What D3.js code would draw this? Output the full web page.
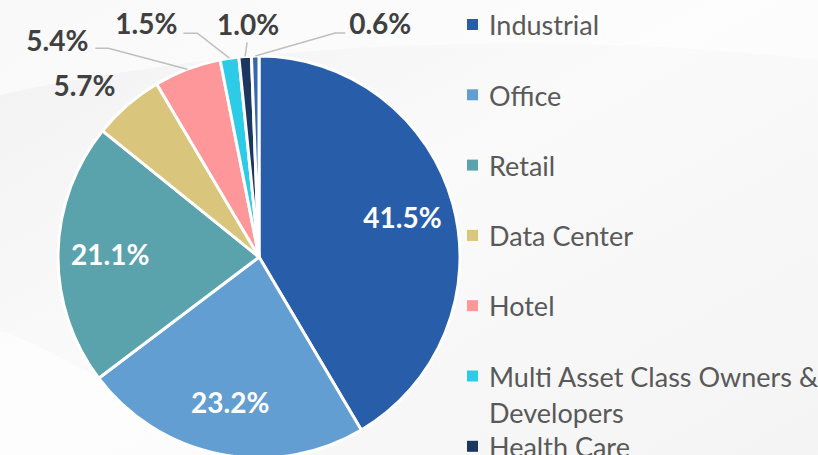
<!doctype html>
<html lang="en">
    <head>
        <meta charset="utf-8">
        <title>Pie by property type</title>
        <script type="text/javascript" src="https://cdn.jsdelivr.net/npm/d3@7"></script>
        <style>
            body { margin: 0; background: #f6f6f7; }
            svg { display: block; }
        </style>
    </head>
    <body>
        <script type="text/javascript">

            var svgW = 818;
            var svgH = 455;

            var categories = ["Industrial", "Office", "Retail", "Data Center", "Hotel",
                              "Multi Asset Class Owners & Developers", "Health Care", "Other"];
            var shares = [41.5, 23.2, 21.1, 5.7, 5.4, 1.5, 1.0, 0.6];
            var colors = ["#285ea9", "#639ed2", "#5aa3ad", "#d9c67c", "#fd9799", "#2ccbe8", "#1b375f", "#3566b2"];

            // label placement: inside slices for the big ones, outside with leader lines for the rest
            // offsets are relative to the slice's outer edge point at its mid angle
            var labelLayout = [
                {inside: true},
                {inside: true},
                {inside: true},
                {dx: -43, dy: -19, anchor: "middle"},
                {dx: -99, dy: -28, anchor: "end", elbow: [-79, -21], lineEnd: [-92, -21]},
                {dx: -52, dy: -34, anchor: "end", elbow: [-32, -25], lineEnd: [-46, -25]},
                {dx: 3, dy: -32, anchor: "middle", elbow: [2, -14], lineEnd: [2, -14]},
                {dx: 94, dy: -32, anchor: "start", elbow: [80, -23], lineEnd: [90, -23]}
            ];

            var cx = 259, cy = 257, radius = 201;

            var svg = d3.select("body")
                        .append("svg")
                        .attr("width", svgW)
                        .attr("height", svgH);

            // soft background
            var defs = svg.append("defs");
            var bg = defs.append("linearGradient")
                         .attr("id", "bg")
                         .attr("x1", 0).attr("y1", 0).attr("x2", 1).attr("y2", 1);
            bg.append("stop").attr("offset", "0%").attr("stop-color", "#f1f1f2");
            bg.append("stop").attr("offset", "45%").attr("stop-color", "#fafafa");
            bg.append("stop").attr("offset", "100%").attr("stop-color", "#f4f4f5");

            svg.append("rect")
               .attr("width", svgW)
               .attr("height", svgH)
               .attr("fill", "url(#bg)");

            svg.append("path")
               .attr("d", "M0,95 C250,40 560,30 818,60 L818,0 L0,0 Z")
               .attr("fill", "#ffffff")
               .attr("opacity", 0.55);
            svg.append("path")
               .attr("d", "M0,330 C80,360 160,420 230,455 L0,455 Z")
               .attr("fill", "#ffffff")
               .attr("opacity", 0.6);

            var pie = d3.pie()
                        .sort(null)
                        .value(d => d.value);

            var data = categories.map((c, i) => ({name: c, value: shares[i], color: colors[i], layout: labelLayout[i]}));
            var arcs = pie(data);

            var arc = d3.arc()
                        .innerRadius(0)
                        .outerRadius(radius);

            var g = svg.append("g")
                       .attr("transform", "translate(" + cx + "," + cy + ")");

            g.selectAll("path.slice")
             .data(arcs)
             .enter()
             .append("path")
             .attr("class", "slice")
             .attr("d", arc)
             .attr("fill", d => d.data.color)
             .attr("stroke", "#ffffff")
             .attr("stroke-width", 3)
             .attr("stroke-linejoin", "round");

            var edgePoint = function(d) {
                var a = (d.startAngle + d.endAngle) / 2;
                return [Math.sin(a) * radius, -Math.cos(a) * radius];
            };

            // inside labels
            var inLabel = d3.arc()
                            .innerRadius(radius * 0.74)
                            .outerRadius(radius * 0.74);

            g.selectAll("text.inside")
             .data(arcs.filter(d => d.data.layout.inside))
             .enter()
             .append("text")
             .attr("class", "inside")
             .attr("transform", d => "translate(" + inLabel.centroid(d) + ")")
             .attr("dy", "0.36em")
             .attr("text-anchor", "middle")
             .attr("font-family", "Lato, sans-serif")
             .attr("font-weight", "bold")
             .attr("font-size", "28px")
             .attr("fill", "#ffffff")
             .text(d => d.data.value.toFixed(1) + "%");

            var outside = arcs.filter(d => !d.data.layout.inside);

            g.selectAll("polyline.leader")
             .data(outside.filter(d => d.data.layout.elbow))
             .enter()
             .append("polyline")
             .attr("class", "leader")
             .attr("points", function(d) {
                 var p = edgePoint(d);
                 var L = d.data.layout;
                 return [p, [p[0] + L.elbow[0], p[1] + L.elbow[1]], [p[0] + L.lineEnd[0], p[1] + L.lineEnd[1]]]
                        .map(q => q.join(",")).join(" ");
             })
             .attr("fill", "none")
             .attr("stroke", "#bfbfbf")
             .attr("stroke-width", 1.5);

            g.selectAll("text.outside")
             .data(outside)
             .enter()
             .append("text")
             .attr("class", "outside")
             .attr("x", d => edgePoint(d)[0] + d.data.layout.dx)
             .attr("y", d => edgePoint(d)[1] + d.data.layout.dy)
             .attr("dy", "0.36em")
             .attr("text-anchor", d => d.data.layout.anchor)
             .attr("font-family", "Lato, sans-serif")
             .attr("font-weight", "bold")
             .attr("font-size", "28px")
             .attr("fill", "#404040")
             .text(d => d.data.value.toFixed(1) + "%");

            // legend
            var legendX = 467, legendTop = 25, legendStep = 70.3, lineH = 36, maxW = 340;

            var legend = svg.append("g")
                            .attr("transform", "translate(" + legendX + "," + legendTop + ")");

            var item = legend.selectAll("g.item")
                             .data(data)
                             .enter()
                             .append("g")
                             .attr("class", "item")
                             .attr("transform", (_, i) => "translate(0," + i * legendStep + ")");

            item.append("rect")
                .attr("x", 0)
                .attr("y", -6)
                .attr("width", 11)
                .attr("height", 11)
                .attr("fill", d => d.color);

            item.append("text")
                .attr("x", 22)
                .attr("y", 0)
                .attr("dy", "0.38em")
                .attr("font-family", "Lato, sans-serif")
                .attr("font-size", "27px")
                .attr("fill", "#595959")
                .each(function(d) {
                    var t = d3.select(this);
                    var words = d.name.split(" ");
                    var line = [];
                    var tspan = t.append("tspan").attr("x", 22);
                    words.forEach(function(w) {
                        line.push(w);
                        tspan.text(line.join(" "));
                        if (tspan.node().getComputedTextLength() > maxW && line.length > 1) {
                            line.pop();
                            tspan.text(line.join(" "));
                            line = [w];
                            tspan = t.append("tspan").attr("x", 22).attr("dy", lineH).text(w);
                        }
                    });
                });

        </script>
    </body>
</html>
